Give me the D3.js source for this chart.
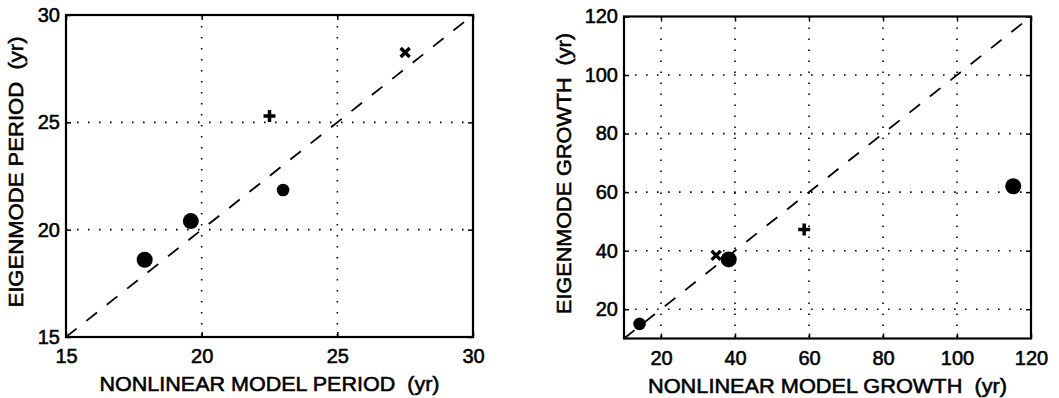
<!DOCTYPE html>
<html>
<head>
<meta charset="utf-8">
<script src="https://cdn.jsdelivr.net/npm/d3@7"></script>
<style>
  body { margin: 0; background: #fff; }
  text { font-family: "Liberation Sans", Arial, Helvetica, sans-serif; fill: #000; stroke: #000; stroke-width: 0.55px; }
</style>
</head>
<body>
<div class="chart"></div>
<script>
// marker style of each model run (same order in both panels)
const markers = ['bigCircle', 'bigCircle', 'smallCircle', 'plus', 'cross'];

// left panel: periods (yr)
const periodNonlinear = [17.9, 19.6, 23.0, 22.5, 27.5];
const periodEigen = [18.6, 20.4, 21.85, 25.3, 28.25];
const periodDomain = [15, 30];
const periodTicks = [15, 20, 25, 30];

// right panel: growth times (yr)
const growthNonlinear = [115.2, 38.3, 14.2, 58.7, 34.9];
const growthEigen = [62, 37, 15, 47.2, 38.4];
const growthDomain = [10, 120];
const growthTicks = [20, 40, 60, 80, 100, 120];

const width = 1059;
const height = 398;
const plotW = 407;
const plotH = 322;

const svg = d3.select('.chart')
    .append('svg')
    .attr('width', width)
    .attr('height', height)

function panel(left, top, xs, ys, domain, xTicks, yTicks, xLabel, yLabel, xLabelLen, yLabelLen, yLabelOff) {
    const g = svg.append('g').attr('transform', `translate(${left},${top})`)

    const x = d3.scaleLinear().domain(domain).range([0, plotW])
    const y = d3.scaleLinear().domain(domain).range([plotH, 0])

    // dotted grid
    g.selectAll('.vgrid')
        .data(xTicks.filter(t => t > domain[0] && t < domain[1]))
        .enter()
        .append('line')
        .attr('x1', d => x(d)).attr('x2', d => x(d))
        .attr('y1', 0).attr('y2', plotH)
        .attr('stroke', '#000')
        .attr('stroke-width', 1.6)
        .attr('stroke-dasharray', '1.6,9.4')

    g.selectAll('.hgrid')
        .data(yTicks.filter(t => t > domain[0] && t < domain[1]))
        .enter()
        .append('line')
        .attr('y1', d => y(d)).attr('y2', d => y(d))
        .attr('x1', 0).attr('x2', plotW)
        .attr('stroke', '#000')
        .attr('stroke-width', 1.6)
        .attr('stroke-dasharray', '1.6,9.4')

    // 1:1 dashed line
    g.append('line')
        .attr('x1', x(domain[0])).attr('y1', y(domain[0]))
        .attr('x2', x(domain[1])).attr('y2', y(domain[1]))
        .attr('stroke', '#000')
        .attr('stroke-width', 1.8)
        .attr('stroke-dasharray', '13.5,12.5')

    // axes, inward ticks
    g.append('g')
        .attr('transform', `translate(0,${plotH})`)
        .call(d3.axisBottom(x).tickValues(xTicks).tickSize(-5).tickPadding(12))
    g.append('g')
        .call(d3.axisTop(x).tickValues(xTicks).tickSize(-5).tickFormat(''))
    g.append('g')
        .call(d3.axisLeft(y).tickValues(yTicks).tickSize(-5).tickPadding(6))
    g.append('g')
        .attr('transform', `translate(${plotW},0)`)
        .call(d3.axisRight(y).tickValues(yTicks).tickSize(-5).tickFormat(''))

    g.selectAll('.domain').remove()
    g.selectAll('.tick line').attr('stroke', '#000').attr('stroke-width', 1.5)
    g.selectAll('.tick text')
        .attr('font-size', 20)
        .attr('font-family', '"Liberation Sans", Arial, sans-serif')

    // frame
    g.append('rect')
        .attr('width', plotW)
        .attr('height', plotH)
        .attr('fill', 'none')
        .attr('stroke', '#000')
        .attr('stroke-width', 2.2)

    // markers
    const pts = xs.map((v, i) => ({ x: v, y: ys[i], m: markers[i] }))

    g.selectAll('.circ')
        .data(pts.filter(d => d.m.endsWith('Circle')))
        .enter()
        .append('circle')
        .attr('cx', d => x(d.x))
        .attr('cy', d => y(d.y))
        .attr('r', d => d.m === 'bigCircle' ? 8 : 6.3)
        .attr('fill', '#000')

    g.selectAll('.plus')
        .data(pts.filter(d => d.m === 'plus'))
        .enter()
        .append('path')
        .attr('transform', d => `translate(${x(d.x)},${y(d.y)})`)
        .attr('d', 'M-6,0H6M0,-6V6')
        .attr('stroke', '#000')
        .attr('stroke-width', 3.5)

    g.selectAll('.cross')
        .data(pts.filter(d => d.m === 'cross'))
        .enter()
        .append('path')
        .attr('transform', d => `translate(${x(d.x)},${y(d.y)})`)
        .attr('d', 'M-4.5,-4.5L4.5,4.5M-4.5,4.5L4.5,-4.5')
        .attr('stroke', '#000')
        .attr('stroke-width', 3.4)

    // axis titles
    g.append('text')
        .attr('x', plotW / 2)
        .attr('y', plotH + 54)
        .attr('text-anchor', 'middle')
        .attr('font-size', 20)
        .attr('textLength', xLabelLen)
        .attr('lengthAdjust', 'spacingAndGlyphs')
        .text(xLabel)

    g.append('text')
        .attr('transform', `translate(${-yLabelOff},${plotH / 2 - 4}) rotate(-90)`)
        .attr('text-anchor', 'middle')
        .attr('font-size', 20)
        .attr('textLength', yLabelLen)
        .attr('lengthAdjust', 'spacingAndGlyphs')
        .text(yLabel)
}

panel(66, 15, periodNonlinear, periodEigen, periodDomain, periodTicks, periodTicks,
    'NONLINEAR MODEL PERIOD\u00a0\u00a0(yr)', 'EIGENMODE PERIOD\u00a0\u00a0(yr)', 340, 271, 43)

panel(624, 16.5, growthNonlinear, growthEigen, growthDomain, growthTicks, growthTicks,
    'NONLINEAR MODEL GROWTH\u00a0\u00a0(yr)', 'EIGENMODE GROWTH\u00a0\u00a0(yr)', 359, 281, 53)
</script>
</body>
</html>
